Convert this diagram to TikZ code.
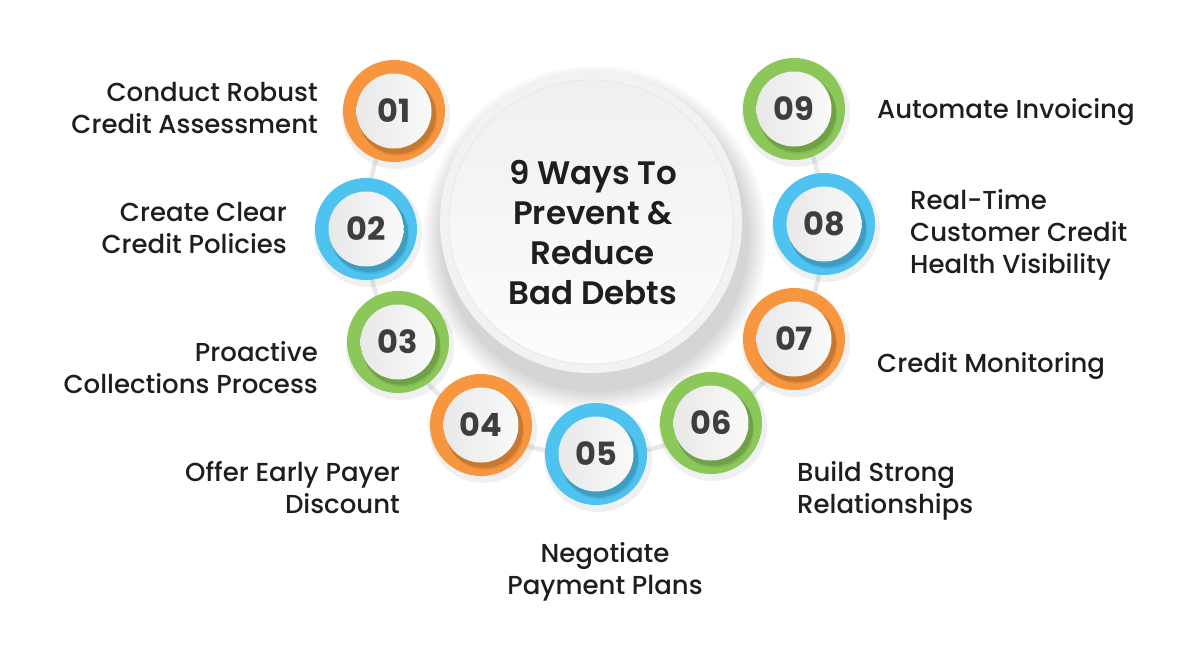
\documentclass[tikz,border=0pt]{standalone}
\usepackage{fontspec}
\setmainfont{Poppins}[UprightFont=* Medium, BoldFont=* SemiBold]
\newfontfamily\numfont{Poppins}[UprightFont=* Bold]
\definecolor{corange}{HTML}{F7963E}
\definecolor{cblue}{HTML}{4EC3F0}
\definecolor{cgreen}{HTML}{8BC859}
\definecolor{ringgray}{HTML}{E8E8E8}
\definecolor{numgray}{HTML}{3E3E40}
\definecolor{txt}{HTML}{1E1E1E}
\tikzset{
  badgeshadow/.style={circle, fill=black, fill opacity=0.06, minimum size=108pt, inner sep=0, draw=none},
  ringc/.style={circle, fill=#1, minimum size=102pt, inner sep=0, draw=none},
  discshadow/.style={circle, fill=black, fill opacity=#1, minimum size=78pt, inner sep=0, draw=none},
  disc/.style={circle, minimum size=75pt, inner sep=0, left color=black!9, right color=black!2, draw=none,
     font=\numfont\fontsize{32}{32}\selectfont, text=numgray},
  lbl/.style={font=\fontsize{26}{32}\selectfont, text=txt, inner sep=0},
  title/.style={font=\bfseries\fontsize{32.5}{40}\selectfont, text=txt, align=center, inner sep=0},
}
\newcommand{\badge}[4]{% name, x, y, color
  \node[badgeshadow] at (#2+2,#3+4) {};
  \node[ringc=#4] (r#1) at (#2,#3) {};
  \node[discshadow=0.07] at (#2+4,#3+6) {};
  \node[discshadow=0.13] at (#2+3,#3+4) {};
  \node[disc] (#1) at (#2,#3) {0#1};
}
\begin{document}
\begin{tikzpicture}[x=1pt,y=-1pt]
\useasboundingbox (0,0) rectangle (1200,646);
\fill[white] (0,0) rectangle (1200,646);
% connecting ring
\coordinate (rc) at (595,227);
\draw[ringgray, line width=4.5pt] (rc) ++(-30:229) arc[start angle=-30, end angle=210, radius=229];
% big circle shadow
\foreach \r in {172,169,166,163,160,157,154}
  \fill[black, fill opacity=0.022] (595,238) circle[radius=\r];
\fill[black!5] (591,222) circle[radius=151];
\shade[top color=black!6, bottom color=black!1] (591,222) circle[radius=142];
\draw[black!9, line width=0.8pt] (591,222) circle[radius=142];
\node[title] (title) at (593,233) {9 Ways To\\Prevent \&\\Reduce\\Bad Debts};
% badges
\badge{1}{394}{111}{corange}
\badge{2}{366}{229}{cblue}
\badge{3}{398}{342}{cgreen}
\badge{4}{481}{425}{corange}
\badge{5}{596}{454}{cblue}
\badge{6}{711}{423}{cgreen}
\badge{7}{794}{339}{corange}
\badge{8}{824}{224}{cblue}
\badge{9}{794}{109}{cgreen}
% labels
\node[lbl, align=right, anchor=east] (l1) at (318,108) {Conduct Robust\\Credit Assessment};
\node[lbl, align=right, anchor=east] (l2) at (287,228) {Create Clear\\Credit Policies};
\node[lbl, align=right, anchor=east] (l3) at (318,368) {Proactive\\Collections Process};
\node[lbl, align=right, anchor=east] (l4) at (400,488) {Offer Early Payer\\Discount};
\node[lbl, align=center] (l5) at (605,572) {Negotiate\\Payment Plans};
\node[lbl, align=left, anchor=west] (l6) at (797,491) {Build Strong\\Relationships};
\node[lbl, align=left, anchor=west] (l7) at (877,366) {Credit Monitoring};
\node[lbl, align=left, anchor=west] (l8) at (910,235) {Real-Time\\Customer Credit\\Health Visibility};
\node[lbl, align=left, anchor=west] (l9) at (877,112) {Automate Invoicing};
\end{tikzpicture}
\end{document}
